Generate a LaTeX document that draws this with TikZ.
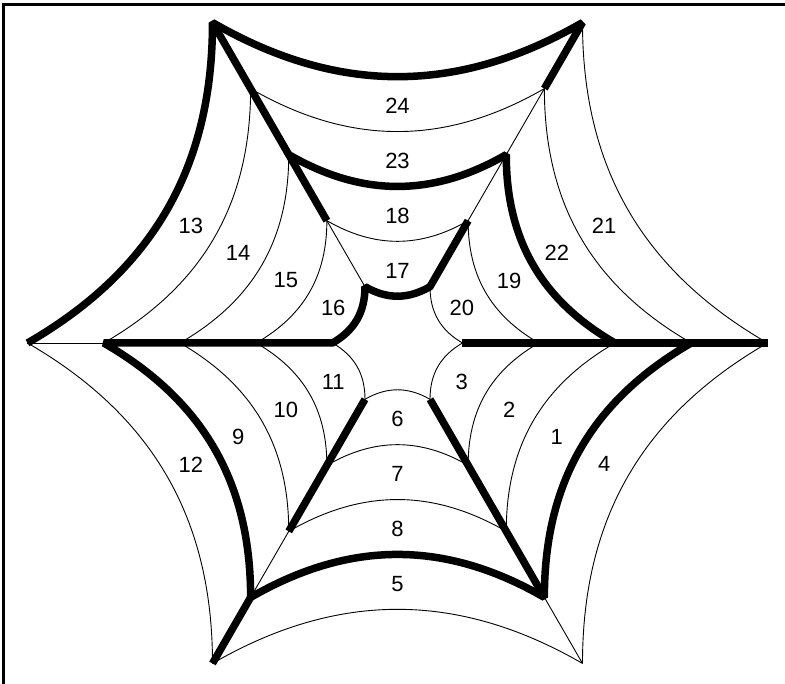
\documentclass[tikz,border=0pt]{standalone}
\usepackage{fontspec}
\setmainfont{Liberation Sans}
\begin{document}
\begin{tikzpicture}[x=1pt,y=1pt,
  thinl/.style={line width=0.9pt},
  thickl/.style={line width=7.5pt, line join=bevel},
  framel/.style={line width=3pt},
  lab/.style={font=\fontsize{22}{26}\selectfont, inner sep=0pt, yshift=-2pt}]
\useasboundingbox (-397.5,-341) rectangle (387.5,343);
% spoke points
\foreach \a in {0,60,120,180,240,300}{
  \foreach \k/\r in {0/65,1/141.25,2/217.5,3/293.75,4/370}{
    \coordinate (p\a-\k) at (\a:\r);
  }
}
% frame (top and left edges)
\coordinate (fbl) at (-394.2,-345);
\coordinate (ftl) at (-394.2,338);
\coordinate (ftr) at (392,338);
\draw[framel] (fbl) -- (ftl) -- (ftr);
% thin spokes
\foreach \a in {0,60,120,180,240,300}{
  \draw[thinl] (p\a-0) -- (p\a-4);
}
% thin rings
\foreach \a/\b in {0/60,60/120,120/180,180/240,240/300,300/0}{
  \foreach \k in {0,...,4}{
    \draw[thinl] (p\a-\k) to[bend left=30] (p\b-\k);
  }
}
% thick lines
\draw[thickl] (p180-4) to[bend right=30] (p120-4) to[bend right=30] (p60-4) -- (p60-3);
\draw[thickl] (p120-4) -- (p120-1);
\draw[thickl] (p120-2) to[bend right=30] (p60-2) to[bend right=30] (p0-2);
\draw[thickl] (p60-1) -- (p60-0) to[bend left=30] (p120-0) to[bend left=30] (p180-0)
   -- (p180-3) to[bend left=30] (p240-3) to[bend left=30] (p300-3) to[bend left=30] (p0-3);
\draw[thickl] (p240-0) -- (p240-2);
\draw[thickl] (p240-3) -- (p240-4);
\draw[thickl] (p300-0) -- (p300-3);
\draw[thickl] (p0-0) -- (p0-4);
% labels
\foreach \ang/\la/\lb/\lc/\ld in {330/3/2/1/4, 270/6/7/8/5, 210/11/10/9/12,
    150/16/15/14/13, 90/17/18/23/24, 30/20/19/22/21}{
  \node[lab] (l\la) at (\ang:74.2) {\la};
  \node[lab] (l\lb) at (\ang:129) {\lb};
  \node[lab] (l\lc) at (\ang:183.9) {\lc};
  \node[lab] (l\ld) at (\ang:238.7) {\ld};
}
\end{tikzpicture}
\end{document}
